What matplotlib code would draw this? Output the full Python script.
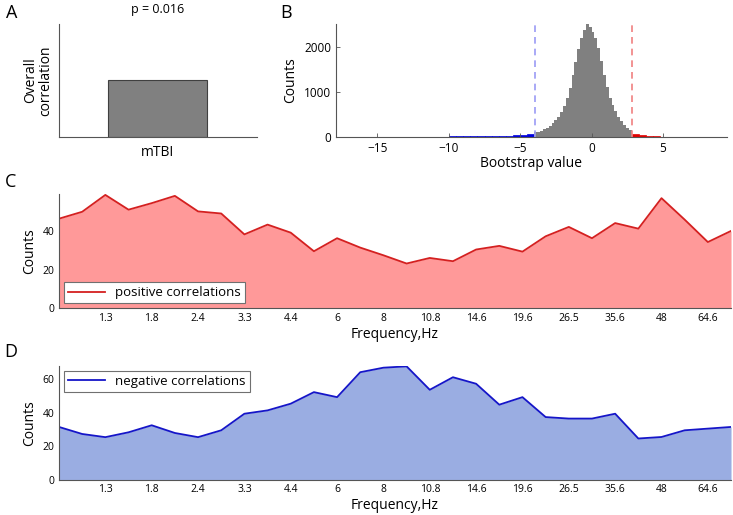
import numpy as np
import matplotlib
matplotlib.use("Agg")
import matplotlib.pyplot as plt

plt.rcParams["font.family"] = ["Open Sans", "DejaVu Sans"]

# panel A
bar_label = ["mTBI"]
bar_value = [0.5]
p_text = "p = 0.016"

# panel B: bootstrap histogram (bin left edges, width, counts)
blue_edges = [-18.0, -17.5, -17.0, -16.5, -16.0, -15.5, -15.0, -14.5, -14.0, -13.5,
              -13.0, -12.5, -12.0, -11.5, -11.0, -10.5, -10.0, -9.5, -9.0, -8.5,
              -8.0, -7.5, -7.0, -6.5, -6.0, -5.5, -5.0, -4.5]
blue_counts = [2, 2, 2, 2, 2, 2, 2, 2, 2, 2, 3, 3, 3, 3, 3, 4, 5, 6, 7, 8,
               10, 12, 15, 19, 25, 33, 45, 62]
gray_edges = [-4.0, -3.8, -3.6, -3.4, -3.2, -3.0, -2.8, -2.6, -2.4, -2.2, -2.0,
              -1.8, -1.6, -1.4, -1.2, -1.0, -0.8, -0.6, -0.4, -0.2, 0.0, 0.2,
              0.4, 0.6, 0.8, 1.0, 1.2, 1.4, 1.6, 1.8, 2.0, 2.2, 2.4, 2.6]
gray_counts = [95, 110, 130, 160, 195, 240, 295, 360, 440, 540, 680, 860, 1080,
               1360, 1650, 1940, 2180, 2360, 2500, 2440, 2330, 2180, 1960, 1680,
               1370, 1100, 860, 700, 560, 440, 340, 250, 190, 150]
red_edges = [2.8, 3.3, 3.8, 4.3, 4.8, 5.3, 5.8, 6.3, 6.8, 7.3, 7.8, 8.3, 8.8]
red_counts = [65, 32, 14, 7, 4, 3, 2, 2, 2, 2, 2, 2, 2]
neg_thresh = -3.97
pos_thresh = 2.85

# panels C, D
freq_labels = ["1.3", "1.8", "2.4", "3.3", "4.4", "6", "8", "10.8", "14.6",
               "19.6", "26.5", "35.6", "48", "64.6"]
pos_counts = [46.6, 50.2, 59.0, 51.3, 54.7, 58.5, 50.4, 49.3, 38.4, 43.5,
              39.3, 29.6, 36.4, 31.5, 27.5, 23.2, 26.1, 24.4, 30.5, 32.4,
              29.4, 37.4, 42.3, 36.4, 44.3, 41.4, 57.3, 46.1, 34.4, 40.2]
neg_counts = [31.4, 27.2, 25.3, 28.2, 32.4, 27.8, 25.3, 29.4, 39.3, 41.3,
              45.3, 52.2, 49.2, 64.1, 66.8, 67.6, 53.6, 61.1, 57.2, 44.7,
              49.2, 37.3, 36.4, 36.4, 39.3, 24.5, 25.4, 29.4, 30.4, 31.4]

spine_col = "#555555"
lab_fs = 10


def style(ax, fs):
    ax.spines["top"].set_visible(False)
    ax.spines["right"].set_visible(False)
    for s in ("left", "bottom"):
        ax.spines[s].set_color(spine_col)
        ax.spines[s].set_linewidth(0.8)
    ax.tick_params(direction="in", length=3, width=0.6, colors=spine_col,
                   labelsize=fs, labelcolor="black")


fig = plt.figure(figsize=(7.33, 5.15), dpi=100)

# A
axA = fig.add_axes([0.0805, 0.7346, 0.270, 0.219])
axA.bar([1], bar_value, width=1.0, color="#808080", edgecolor="#404040", linewidth=0.8)
axA.set_xlim(-0.0, 2.0)
axA.set_ylim(0, 1.0)
axA.set_xticks([1])
axA.set_xticklabels(bar_label)
axA.set_yticks([])
axA.set_ylabel("Overall\ncorrelation", fontsize=lab_fs, linespacing=1.0)
axA.set_title(p_text, fontsize=9, pad=8)
style(axA, 10)
axA.tick_params(axis="x", length=0, pad=6)
fig.text(0.008, 0.975, "A", fontsize=13, va="center")

# B
axB = fig.add_axes([0.4584, 0.7346, 0.533, 0.219])
axB.bar(blue_edges, blue_counts, width=0.5, align="edge", color="#0000e0",
        edgecolor="#0000e0", linewidth=0.5)
axB.bar(gray_edges, gray_counts, width=0.2, align="edge", color="#808080",
        linewidth=0)
axB.bar(red_edges, red_counts, width=0.5, align="edge", color="#e00000",
        edgecolor="#e00000", linewidth=0.5)
axB.axvline(neg_thresh, color="#9b9bf5", ls=(0, (4, 3)), lw=1.2)
axB.axvline(pos_thresh, color="#f08080", ls=(0, (4, 3)), lw=1.2)
axB.set_xlim(-17.9, 9.46)
axB.set_ylim(0, 2504)
axB.set_xticks([-15, -10, -5, 0, 5])
axB.set_xticklabels(["\u221215", "\u221210", "\u22125", "0", "5"])
axB.set_yticks([0, 1000, 2000])
axB.set_xlabel("Bootstrap value", fontsize=lab_fs, labelpad=1)
axB.set_ylabel("Counts", fontsize=lab_fs)
style(axB, 8.5)
fig.text(0.383, 0.975, "B", fontsize=13, va="center")

# C and D
x = np.arange(len(pos_counts))
tick_pos = np.arange(2, len(pos_counts), 2)


def freq_panel(rect, counts, fill, line, top, yt, label, loc, letter, ly):
    ax = fig.add_axes(rect)
    ax.fill_between(x, counts, color=fill, linewidth=0)
    ax.plot(x, counts, color=line, lw=1.3, label=label)
    ax.set_xlim(0, len(counts) - 1)
    ax.set_ylim(0, top)
    ax.set_xticks(tick_pos)
    ax.set_xticklabels(freq_labels)
    ax.set_yticks(yt)
    ax.set_xlabel("Frequency,Hz", fontsize=lab_fs, labelpad=2)
    ax.set_ylabel("Counts", fontsize=lab_fs)
    style(ax, 7.5)
    ax.tick_params(length=0)
    leg = ax.legend(loc=loc, fontsize=9.5, frameon=True, fancybox=False,
                    framealpha=1, handlelength=2.8, borderaxespad=0.35,
                    borderpad=0.3)
    leg.get_frame().set_edgecolor("#707070")
    leg.get_frame().set_linewidth(0.8)
    fig.text(0.006, ly, letter, fontsize=13, va="center")
    return ax


freq_panel([0.0805, 0.402, 0.9168, 0.2214], pos_counts, "#ff9999", "#d42020",
           59.5, [0, 20, 40], "positive correlations", "lower left", "C", 0.647)
freq_panel([0.0805, 0.0689, 0.9168, 0.2204], neg_counts, "#9aade2", "#1515c8",
           67.8, [0, 20, 40, 60], "negative correlations", "upper left", "D", 0.316)

fig.savefig("out.png", dpi=100)
